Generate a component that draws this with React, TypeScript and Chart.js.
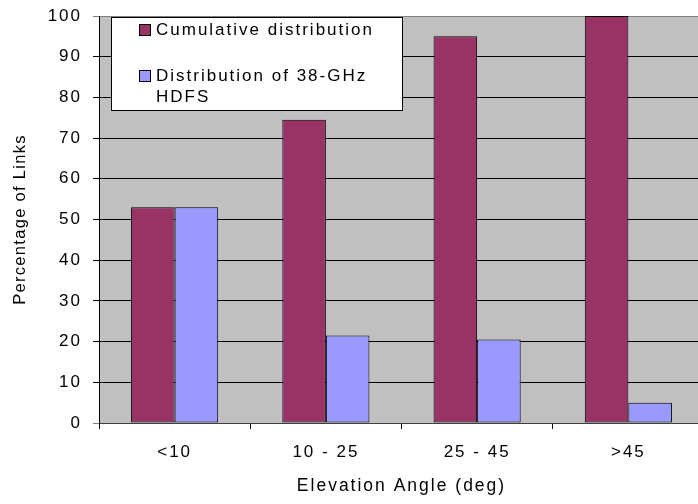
import React, { useEffect, useRef } from "react";
import { Chart, registerables } from "chart.js";

Chart.register(...registerables);

// Elevation-angle bins and the two series (percent of links)
const categories = ["<10", "10 - 25", "25 - 45", ">45"];
const cumulative = [53, 74.5, 95, 100];
const distribution = [53, 21.5, 20.5, 5];

// Legend text, one entry per series (second one wraps onto two lines)
const legendLines: string[][] = [
  ["Cumulative distribution"],
  ["Distribution of 38-GHz", "HDFS"],
];

// Value axis range
const yMin = 0;
const yMax = 100;
const yStep = 10;

const FONT = '"Liberation Sans", Arial, sans-serif';
const SPACING = "2px";
const Y_TITLE_SPACING = "1.3px";

const MAROON = "#993366";
const LAVENDER = "#9999FF";
const PLOT_GRAY = "#C0C0C0";

const setSpacing = (chart: any) => {
  (chart.ctx as any).letterSpacing = SPACING;
};

// Gray plot background, wide letter spacing, and the boxed legend
const decor = {
  id: "decor",
  beforeUpdate(chart: any) {
    setSpacing(chart);
  },
  beforeDraw(chart: any) {
    setSpacing(chart);
    const { ctx, chartArea } = chart;
    ctx.save();
    ctx.fillStyle = PLOT_GRAY;
    ctx.fillRect(
      chartArea.left,
      chartArea.top,
      chartArea.right - chartArea.left,
      chartArea.bottom - chartArea.top
    );
    ctx.restore();
  },
  afterDraw(chart: any) {
    const { ctx, chartArea } = chart;
    const x0 = Math.round(chartArea.left + 12);
    const y0 = Math.round(chartArea.top + 1);
    const w = 291;
    const h = 93;
    ctx.save();
    ctx.fillStyle = "#FFFFFF";
    ctx.fillRect(x0, y0, w, h);
    ctx.strokeStyle = "#000000";
    ctx.lineWidth = 1;
    ctx.strokeRect(x0 + 0.5, y0 + 0.5, w, h);

    (ctx as any).letterSpacing = SPACING;
    ctx.font = `17px ${FONT}`;
    ctx.textBaseline = "middle";
    ctx.textAlign = "left";
    const rowOffsets = [13, 59];
    const lineGap = 21;
    chart.data.datasets.forEach((ds: any, i: number) => {
      const cy = y0 + rowOffsets[i];
      ctx.fillStyle = ds.backgroundColor;
      ctx.fillRect(x0 + 28, cy - 6, 12, 12);
      ctx.strokeStyle = "#000000";
      ctx.strokeRect(x0 + 28.5, cy - 5.5, 11, 11);
      ctx.fillStyle = "#000000";
      legendLines[i].forEach((line, j) => {
        ctx.fillText(line, x0 + 45, cy + j * lineGap);
      });
    });
    ctx.restore();
  },
};

export default function App() {
  const canvasRef = useRef<HTMLCanvasElement | null>(null);

  useEffect(() => {
    const canvas = canvasRef.current;
    if (!canvas) return;
    const chart = new Chart(canvas, {
      type: "bar",
      data: {
        labels: categories,
        datasets: [
          {
            label: legendLines[0].join(" "),
            data: cumulative,
            backgroundColor: MAROON,
            borderColor: "#000000",
            borderWidth: 1,
            borderSkipped: false,
            categoryPercentage: 0.576,
            barPercentage: 1,
          },
          {
            label: legendLines[1].join(" "),
            data: distribution,
            backgroundColor: LAVENDER,
            borderColor: "#000000",
            borderWidth: 1,
            borderSkipped: false,
            categoryPercentage: 0.576,
            barPercentage: 1,
          },
        ],
      },
      options: {
        responsive: false,
        animation: false,
        devicePixelRatio: 1,
        layout: { padding: { top: 16, left: 0, right: 0, bottom: 0 } },
        plugins: {
          legend: { display: false },
          tooltip: { enabled: false },
        },
        scales: {
          x: {
            grid: {
              offset: true,
              drawOnChartArea: false,
              drawTicks: true,
              tickLength: 6,
              color: "#000000",
            },
            border: { color: "#404040", width: 1 },
            ticks: {
              color: "#000000",
              font: { family: FONT, size: 17 },
              padding: 13,
              maxRotation: 0,
              autoSkip: false,
            },
            title: {
              display: true,
              text: "Elevation Angle (deg)",
              color: "#000000",
              font: { family: FONT, size: 17.5 },
              padding: { top: 0, bottom: 7 },
            },
            afterFit(scale: any) {
              scale.height = 81;
              scale.paddingLeft = 0;
              scale.paddingRight = 0;
            },
          },
          y: {
            min: yMin,
            max: yMax,
            ticks: {
              stepSize: yStep,
              color: "#000000",
              font: { family: FONT, size: 17 },
              padding: 11,
            },
            grid: {
              color: (c: any) =>
                c.tick && (c.tick.value === yMin || c.tick.value === yMax)
                  ? "#808080"
                  : "#000000",
              lineWidth: 1,
              tickLength: 6,
              drawTicks: true,
            },
            border: { color: "#000000", width: 1 },
            title: {
              display: true,
              text: "Percentage of Links",
              color: "#000000",
              font: { family: FONT, size: 16.5 },
              padding: { top: 11, bottom: 0 },
            },
            afterFit(scale: any) {
              scale.width = 99;
              scale.paddingTop = 0;
              scale.paddingBottom = 0;
            },
            afterUpdate(scale: any) {
              // the vertical title uses tighter letter spacing than the rest
              if (!scale.__titleWrapped) {
                const orig = scale.drawTitle;
                scale.drawTitle = function (...args: any[]) {
                  const ctx = this.ctx;
                  ctx.letterSpacing = Y_TITLE_SPACING;
                  orig.apply(this, args);
                  ctx.letterSpacing = SPACING;
                };
                scale.__titleWrapped = true;
              }
            },
          },
        },
      },
      plugins: [decor],
    });
    return () => chart.destroy();
  }, []);

  return (
    <div
      style={{
        position: "fixed",
        left: 0,
        top: 0,
        width: 698,
        height: 504,
        overflow: "hidden",
        background: "#FFFFFF",
      }}
    >
      <canvas
        ref={canvasRef}
        width={704}
        height={504}
        style={{ display: "block", width: 704, height: 504 }}
      />
    </div>
  );
}
